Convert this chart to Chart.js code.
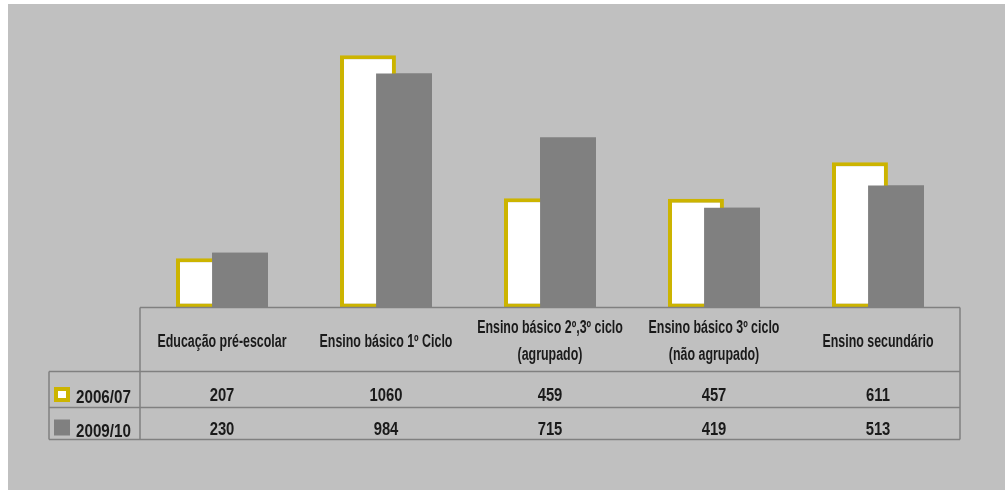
<!DOCTYPE html>
<html>
<head>
<meta charset="utf-8">
<script src="https://cdn.jsdelivr.net/npm/chart.js@4/dist/chart.umd.min.js"></script>
<style>
  html, body { margin: 0; padding: 0; background: #ffffff; }
  #wrap { position: absolute; left: 8px; top: 4px; width: 997px; height: 486px; background: #c0c0c0; }
</style>
</head>
<body>
<div id="wrap"><canvas id="chart" width="997" height="486"></canvas></div>
<script>
// chart data
const categories = [
    'Educação pré-escolar',
    'Ensino básico 1º Ciclo',
    ['Ensino básico 2º,3º ciclo', '(agrupado)'],
    ['Ensino básico 3º ciclo', '(não agrupado)'],
    'Ensino secundário'
];
const seriesNames = ['2006/07', '2009/10'];
const values2006 = [207, 1060, 459, 457, 611];
const values2009 = [230, 984, 715, 419, 513];

const yellow = '#ccb400';
const gray = '#808080';
const lineColor = '#808080';
const textColor = '#1a1a1a';
const fontFamily = '"Liberation Sans", Arial, sans-serif';

// narrow text: squeeze a normal font sideways
function narrowText(ctx, text, x, y, squeeze) {
    ctx.save();
    ctx.translate(x, y);
    ctx.scale(squeeze, 1);
    ctx.fillText(text, 0, 0);
    ctx.restore();
}

// the 2009/10 bars overlap the 2006/07 ones, so paint them again on top
const grayOnTop = {
    id: 'grayOnTop',
    afterDatasetsDraw(chart) {
        const meta = chart.getDatasetMeta(1);
        meta.data.forEach(function(bar) { bar.draw(chart.ctx); });
    }
};

// data table under the plot
const dataTable = {
    id: 'dataTable',
    afterDraw(chart) {
        const ctx = chart.ctx;
        const area = chart.chartArea;
        const xScale = chart.scales.x;
        const top = area.bottom;
        const headBottom = top + 64;
        const row1Bottom = headBottom + 36;
        const row2Bottom = row1Bottom + 32;
        const legendLeft = area.left - 91;

        ctx.save();
        ctx.strokeStyle = lineColor;
        ctx.lineWidth = 1.5;
        ctx.beginPath();
        ctx.moveTo(area.left, top); ctx.lineTo(area.right, top);
        [headBottom, row1Bottom, row2Bottom].forEach(function(y) {
            ctx.moveTo(legendLeft, y); ctx.lineTo(area.right, y);
        });
        ctx.moveTo(area.left, top); ctx.lineTo(area.left, row2Bottom);
        ctx.moveTo(area.right, top); ctx.lineTo(area.right, row2Bottom);
        ctx.moveTo(legendLeft, headBottom); ctx.lineTo(legendLeft, row2Bottom);
        ctx.stroke();

        ctx.fillStyle = textColor;
        ctx.textAlign = 'center';
        ctx.textBaseline = 'alphabetic';

        // category headers
        ctx.font = 'bold 18px ' + fontFamily;
        categories.forEach(function(label, i) {
            const cx = xScale.getPixelForValue(i);
            if (Array.isArray(label)) {
                narrowText(ctx, label[0], cx, top + 25, 0.69);
                narrowText(ctx, label[1], cx, top + 52, 0.69);
            } else {
                narrowText(ctx, label, cx, top + 39, 0.69);
            }
        });

        // values
        ctx.font = 'bold 19px ' + fontFamily;
        [values2006, values2009].forEach(function(vals, r) {
            const baseY = r === 0 ? headBottom + 29 : row1Bottom + 27;
            vals.forEach(function(v, i) {
                narrowText(ctx, String(v), xScale.getPixelForValue(i), baseY, 0.78);
            });
        });

        // series keys
        ctx.textAlign = 'left';
        seriesNames.forEach(function(name, r) {
            const baseY = r === 0 ? headBottom + 31 : row1Bottom + 29;
            const boxY = r === 0 ? headBottom + 15.5 : row1Bottom + 12;
            if (r === 0) {
                ctx.fillStyle = yellow;
                ctx.fillRect(legendLeft + 5, boxY, 16, 15);
                ctx.fillStyle = '#ffffff';
                ctx.fillRect(legendLeft + 9, boxY + 4, 8, 7);
            } else {
                ctx.fillStyle = gray;
                ctx.fillRect(legendLeft + 5, boxY, 16, 16);
            }
            ctx.fillStyle = textColor;
            narrowText(ctx, name, legendLeft + 27, baseY, 0.8);
        });
        ctx.restore();
    }
};

const ctx = document.getElementById('chart').getContext('2d');
const myChart = new Chart(ctx, {
    type: 'bar',
    data: {
        labels: categories,
        datasets: [{
            label: seriesNames[0],
            data: values2006,
            backgroundColor: '#ffffff',
            borderColor: yellow,
            borderWidth: 4,
            borderSkipped: false
        }, {
            label: seriesNames[1],
            data: values2009,
            backgroundColor: gray,
            borderWidth: 0
        }]
    },
    options: {
        responsive: false,
        animation: false,
        categoryPercentage: 0.44,
        barPercentage: 1.55,
        layout: {
            padding: { left: 132, right: 45, top: 18, bottom: 182.5 }
        },
        scales: {
            x: { display: false, grid: { display: false } },
            y: { display: false, min: 0, max: 1200 }
        },
        plugins: {
            legend: { display: false },
            tooltip: { enabled: false }
        }
    },
    plugins: [grayOnTop, dataTable]
});
</script>
</body>
</html>
